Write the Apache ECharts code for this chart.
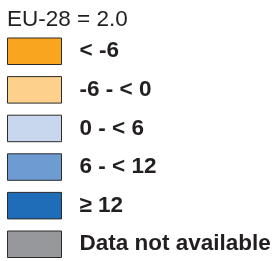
<!DOCTYPE html>
<html><head><meta charset="utf-8">
<script src="https://cdn.jsdelivr.net/npm/echarts@6/dist/echarts.min.js"></script>
<style>html,body{margin:0;padding:0;background:#fff}#c{width:276px;height:261px}</style>
</head><body><div id="c"></div>
<script>
const titleText = 'EU-28 = 2.0';
const categories = ['< -6', '-6 - < 0', '0 - < 6', '6 - < 12', '≥ 12', 'Data not available'];
const colors = ['#F9A51F', '#FDD08C', '#C9D7EE', '#6F9BD3', '#1F6CB8', '#97989B'];

const chart = echarts.init(document.getElementById('c'), null, {renderer: 'canvas'});
chart.setOption({
  animation: false,
  title: {
    text: titleText, left: 7, top: 8, padding: 0,
    textStyle: {fontFamily: 'Liberation Sans', fontWeight: 'normal', fontSize: 22.5, color: '#231F20'}
  },
  grid: {show: false, left: -100, top: -100, width: 1, height: 1},
  xAxis: {show: false, type: 'category', data: ['a']},
  yAxis: {show: false, type: 'value'},
  legend: {
    orient: 'vertical', left: 7, top: 37.5, height: 400, padding: 0,
    itemWidth: 54, itemHeight: 26.5, itemGap: 11.1,
    icon: 'rect', selectedMode: false,
    itemStyle: {borderColor: '#2B2B2B', borderWidth: 1},
    textStyle: {fontFamily: 'Liberation Sans', fontWeight: 'bold', fontSize: 22.5, color: '#231F20', padding: [0, 0, 0, 13]},
    data: categories
  },
  series: categories.map((c, i) => ({name: c, type: 'bar', data: [], itemStyle: {color: colors[i]}}))
});
</script></body></html>
